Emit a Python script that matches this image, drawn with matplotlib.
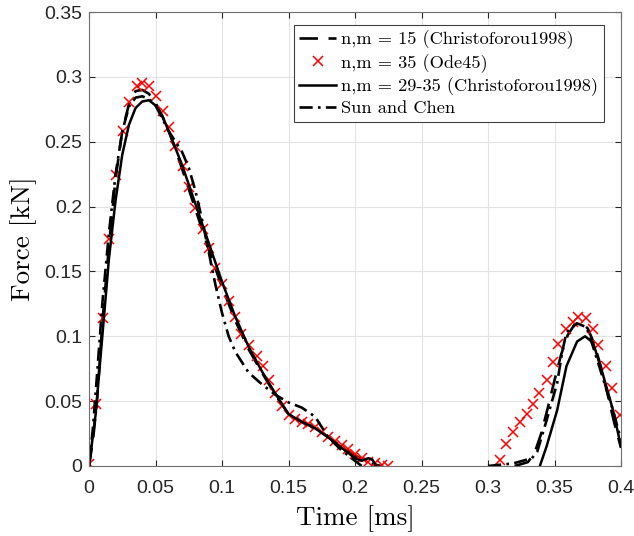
import numpy as np
import matplotlib
matplotlib.use("Agg")
import matplotlib.pyplot as plt

# --- data ---
# red crosses: n,m = 35 (Ode45)
ode_t = [0.0, 0.0055, 0.0105, 0.015, 0.0203, 0.0256, 0.030, 0.036, 0.040, 0.045,
         0.050, 0.056, 0.060, 0.065, 0.071, 0.075, 0.080, 0.086, 0.090, 0.095,
         0.100, 0.105, 0.110, 0.114, 0.120, 0.126, 0.131, 0.135, 0.140, 0.145,
         0.150, 0.155, 0.160, 0.165, 0.170, 0.175, 0.180, 0.185, 0.190, 0.195,
         0.200, 0.205, 0.210, 0.215, 0.220, 0.225,
         0.309, 0.3135, 0.319, 0.324, 0.329, 0.334, 0.338, 0.344, 0.349, 0.353,
         0.359, 0.364, 0.368, 0.374, 0.379, 0.383, 0.389, 0.393, 0.399]
ode_f = [0.0015, 0.048, 0.114, 0.175, 0.224, 0.258, 0.281, 0.293, 0.295, 0.293,
         0.285, 0.274, 0.261, 0.247, 0.231, 0.215, 0.199, 0.183, 0.168, 0.153,
         0.140, 0.127, 0.115, 0.102, 0.093, 0.085, 0.077, 0.066, 0.056, 0.046,
         0.039, 0.036, 0.034, 0.032, 0.030, 0.026, 0.022, 0.019, 0.016, 0.013,
         0.009, 0.006, 0.003, 0.002, 0.001, 0.0,
         0.005, 0.017, 0.026, 0.034, 0.040, 0.048, 0.056, 0.066, 0.080, 0.094,
         0.106, 0.111, 0.115, 0.114, 0.106, 0.093, 0.077, 0.060, 0.039]

# dashed: n,m = 15
n15_t = [0, 0.003, 0.006, 0.01, 0.015, 0.02, 0.025, 0.03, 0.035, 0.04, 0.045,
         0.05, 0.055, 0.06, 0.065, 0.07, 0.08, 0.09, 0.10, 0.11, 0.12, 0.13,
         0.14, 0.15, 0.16, 0.17, 0.18, 0.19, 0.20, 0.21, 0.215, 0.22,
         0.32, 0.33, 0.335, 0.34, 0.345, 0.35, 0.355, 0.36, 0.365, 0.37,
         0.375, 0.38, 0.385, 0.39, 0.395, 0.40]
n15_f = [0, 0.02, 0.05, 0.11, 0.17, 0.222, 0.258, 0.279, 0.289, 0.290, 0.287,
         0.280, 0.270, 0.258, 0.244, 0.229, 0.198, 0.167, 0.138, 0.112, 0.090, 0.072,
         0.055, 0.040, 0.034, 0.030, 0.022, 0.015, 0.008, 0.003, 0.001, 0.0,
         0.0, 0.003, 0.010, 0.025, 0.045, 0.066, 0.086, 0.101, 0.109, 0.111,
         0.106, 0.094, 0.076, 0.055, 0.033, 0.014]

# solid: n,m = 29-35
n29_t = [0, 0.005, 0.01, 0.015, 0.02, 0.025, 0.03, 0.035, 0.04, 0.045, 0.05,
         0.055, 0.06, 0.065, 0.07, 0.08, 0.09, 0.10, 0.11, 0.12, 0.13, 0.14,
         0.15, 0.16, 0.17, 0.18, 0.19, 0.20, 0.205, 0.21, 0.213, 0.216,
         0.339, 0.344, 0.352, 0.359, 0.367, 0.373, 0.379, 0.386, 0.394, 0.40]
n29_f = [0, 0.04, 0.10, 0.16, 0.205, 0.240, 0.263, 0.276, 0.281, 0.282, 0.278,
         0.270, 0.258, 0.245, 0.232, 0.202, 0.172, 0.142, 0.115, 0.092, 0.073, 0.056,
         0.040, 0.034, 0.029, 0.022, 0.014, 0.006, 0.004, 0.006, 0.005, 0.0,
         0.0, 0.015, 0.043, 0.077, 0.096, 0.100, 0.095, 0.072, 0.043, 0.015]

# dash-dot: Sun and Chen
sun_t = [0, 0.003, 0.006, 0.01, 0.015, 0.02, 0.025, 0.03, 0.035, 0.04, 0.045,
         0.05, 0.055, 0.06, 0.065, 0.07, 0.075, 0.08, 0.085, 0.09, 0.095, 0.10,
         0.105, 0.11, 0.12, 0.13, 0.14, 0.15, 0.16, 0.17, 0.175, 0.18, 0.19,
         0.20, 0.205,
         0.30, 0.319, 0.333, 0.337, 0.344, 0.352, 0.356, 0.359, 0.367, 0.374,
         0.379, 0.386, 0.394, 0.40]
sun_f = [0, 0.03, 0.07, 0.125, 0.18, 0.225, 0.258, 0.277, 0.284, 0.285, 0.283,
         0.278, 0.268, 0.258, 0.250, 0.242, 0.230, 0.212, 0.190, 0.165, 0.140, 0.118,
         0.100, 0.088, 0.072, 0.063, 0.055, 0.049, 0.045, 0.038, 0.030, 0.022, 0.012,
         0.004, 0.0,
         0.0, 0.002, 0.006, 0.011, 0.035, 0.064, 0.089, 0.103, 0.110, 0.107,
         0.092, 0.069, 0.043, 0.020]

x_ticks = [0, 0.05, 0.1, 0.15, 0.2, 0.25, 0.3, 0.35, 0.4]
x_labels = ["0", "0.05", "0.1", "0.15", "0.2", "0.25", "0.3", "0.35", "0.4"]
y_ticks = [0, 0.05, 0.1, 0.15, 0.2, 0.25, 0.3, 0.35]
y_labels = ["0", "0.05", "0.1", "0.15", "0.2", "0.25", "0.3", "0.35"]


def split_pulses(t, f, cut=0.26):
    # break the line between the two contact pulses
    t = np.array(t, dtype=float)
    f = np.array(f, dtype=float)
    i = np.searchsorted(t, cut)
    return np.r_[t[:i], np.nan, t[i:]], np.r_[f[:i], np.nan, f[i:]]


serif = ["cmr10", "DejaVu Serif"]
plt.rcParams["font.family"] = ["Liberation Sans", "DejaVu Sans"]
plt.rcParams["axes.formatter.use_mathtext"] = True

fig = plt.figure(figsize=(6.34, 5.36), dpi=100)
ax = fig.add_axes([0.1404, 0.1306, 0.8391, 0.847])

t, f = split_pulses(n15_t, n15_f)
l1, = ax.plot(t, f, color="black", lw=1.9, ls=(0, (7, 4)))
l2, = ax.plot(ode_t, ode_f, ls="none", marker="x", color="red", ms=7, mew=1.1)
t, f = split_pulses(n29_t, n29_f)
l3, = ax.plot(t, f, color="black", lw=1.8, ls="-")
t, f = split_pulses(sun_t, sun_f)
l4, = ax.plot(t, f, color="black", lw=1.9, ls=(0, (5, 2, 1, 2)))

ax.set_xlim(0, 0.4)
ax.set_ylim(0, 0.35)
ax.set_xticks(x_ticks)
ax.set_xticklabels(x_labels)
ax.set_yticks(y_ticks)
ax.set_yticklabels(y_labels)
ax.tick_params(direction="in", length=4, labelsize=14, colors="#262626",
               top=True, right=True)
ax.tick_params(axis="x", pad=10)
ax.tick_params(axis="y", pad=5)
ax.grid(True, color="#e3e3e3", lw=0.8)
ax.set_axisbelow(True)
for s in ax.spines.values():
    s.set_color("#707070")
    s.set_linewidth(0.8)

ax.set_xlabel("Time [ms]", family=serif, fontsize=19.5, labelpad=6)
ax.set_ylabel("Force [kN]", family=serif, fontsize=19.5, labelpad=5)

leg = ax.legend([l1, l2, l3, l4],
                ["n,m = 15 (Christoforou1998)", "n,m = 35 (Ode45)",
                 "n,m = 29-35 (Christoforou1998)", "Sun and Chen"],
                loc="upper right", bbox_to_anchor=(0.9680, 0.9714),
                borderaxespad=0, prop={"family": serif, "size": 13.2},
                fancybox=False, edgecolor="#404040", framealpha=1,
                handlelength=2.0, handletextpad=0.3,
                labelspacing=0.25, borderpad=0.3)
leg.get_frame().set_linewidth(0.8)

fig.savefig("out.png", dpi=100)
